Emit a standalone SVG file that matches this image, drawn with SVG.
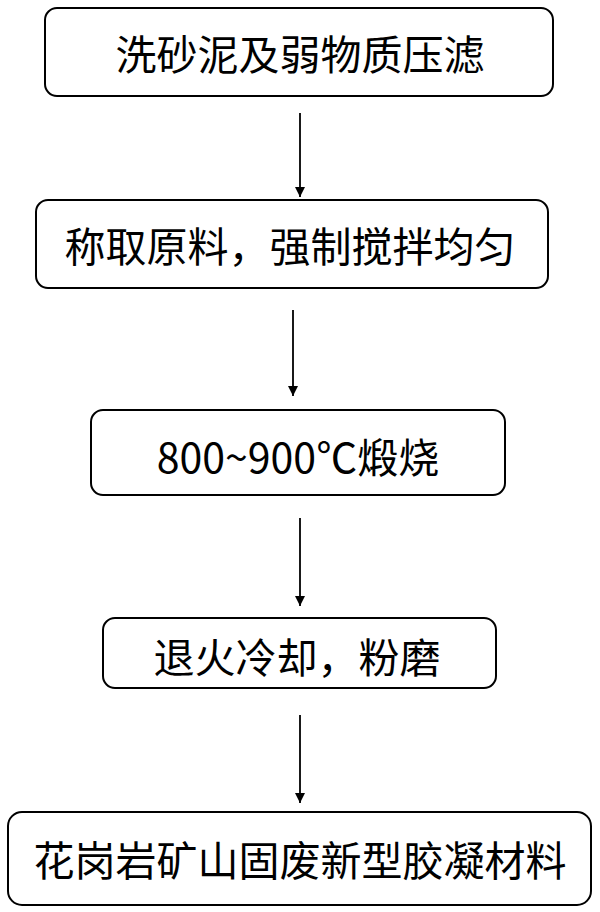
<svg xmlns="http://www.w3.org/2000/svg" width="600" height="912" viewBox="0 0 600 912">
<defs>
<style>
.b{fill:#fff;stroke:#000;stroke-width:2}
.t{font-family:"Noto Sans CJK SC","Noto Sans",sans-serif;font-size:41px;fill:#000;text-anchor:middle;dominant-baseline:central}
.c{stroke:#000;stroke-width:1.8;fill:none;marker-end:url(#a)}
</style>
<marker id="a" viewBox="0 0 10 10" refX="10" refY="5" markerWidth="12" markerHeight="10" orient="auto" markerUnits="userSpaceOnUse"><path d="M0,0L10,5L0,10z" fill="#000"/></marker>
</defs>
<rect width="600" height="912" fill="#fff"/>
<g id="n1"><rect class="b" x="45" y="8" width="508" height="88" rx="12"/><text class="t" x="300" y="52">洗砂泥及弱物质压滤</text></g>
<g id="n2"><rect class="b" x="36" y="200" width="512" height="88" rx="12"/><text class="t" x="290" y="244">称取原料，强制搅拌均匀</text></g>
<g id="n3"><rect class="b" x="91" y="410" width="414" height="85" rx="12"/><text class="t" x="298" y="455">800~900℃煅烧</text></g>
<g id="n4"><rect class="b" x="103" y="618" width="393" height="70" rx="12"/><text class="t" x="297" y="655">退火冷却，粉磨</text></g>
<g id="n5"><rect class="b" x="8" y="812" width="583" height="93" rx="14"/><text class="t" x="300" y="858">花岗岩矿山固废新型胶凝材料</text></g>
<g id="connectors">
<line class="c" x1="300" y1="113" x2="300" y2="197"/>
<line class="c" x1="293" y1="310" x2="293" y2="396"/>
<line class="c" x1="300" y1="518" x2="300" y2="606"/>
<line class="c" x1="300" y1="715" x2="300" y2="803"/>
</g>
</svg>
